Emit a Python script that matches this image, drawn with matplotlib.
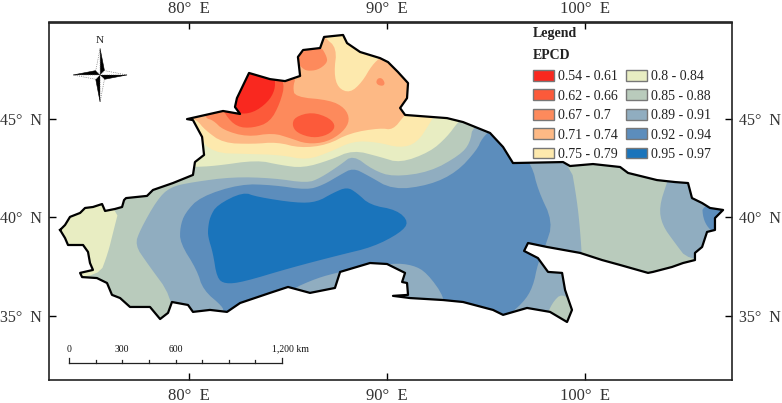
import numpy as np
import matplotlib
matplotlib.use("Agg")
import matplotlib.pyplot as plt
from matplotlib.patches import Patch, Polygon

plt.rcParams["font.family"] = ["Liberation Serif", "DejaVu Serif"]

# study area boundary (lon, lat)
border_lon = [73.49, 73.74, 73.99, 74.50, 74.75, 75.15, 75.61, 75.76, 76.26, 76.62, 76.72, 76.82, 77.88, 78.18, 79.19, 80.20, 80.30, 80.76, 80.66, 80.20, 79.90,
              81.72, 82.58, 82.32, 82.42, 83.03, 84.09, 84.85, 85.61, 85.50, 85.76, 86.62, 86.82, 87.78, 87.98, 88.64, 89.65,
              90.05, 90.55, 91.06, 91.01, 90.66, 90.91, 93.03, 93.84, 95.20, 95.86, 96.36, 98.89, 99.24, 100.40, 101.77, 102.17,
              103.63, 104.54, 105.20, 105.40, 105.91, 106.31, 106.97, 106.56, 106.56, 106.16, 105.91, 105.55, 105.55, 104.95,
              104.39, 103.43, 103.18, 101.77, 100.86, 99.75, 98.08, 97.12, 96.92, 97.62, 98.13, 98.84, 98.99, 99.34, 99.09,
              98.23, 97.07, 95.86, 95.35, 93.84, 92.83, 91.16, 90.30, 91.06, 91.01, 90.76, 90.91, 90.00, 89.14, 87.63, 87.37,
              86.11, 85.00, 84.09, 82.58, 81.92, 81.06, 80.20, 79.95, 79.14, 78.94, 78.54, 78.03, 77.02, 76.52, 76.11, 75.86, 75.35,
              74.60, 74.50, 75.15, 75.00, 74.90, 74.65, 73.89, 73.74]
border_lat = [39.37, 39.62, 40.03, 40.23, 40.48, 40.53, 40.68, 40.33, 40.43, 40.53, 40.88, 40.98, 41.09, 41.39, 41.74, 42.15, 42.80, 43.16, 44.07, 44.92, 44.97,
              45.38, 45.23, 45.58, 46.03, 47.30, 46.99, 46.89, 47.15, 48.11, 48.46, 48.56, 49.12, 49.22, 48.81, 48.36, 48.05,
              47.85, 47.35, 46.79, 46.03, 45.53, 45.18, 45.02, 44.82, 44.27, 43.56, 42.75, 42.80, 42.60, 42.70, 42.55, 42.25,
              41.89, 41.79, 41.74, 40.98, 40.73, 40.48, 40.38, 39.97, 39.37, 39.27, 38.51, 38.21, 37.85, 37.70,
              37.50, 37.25, 37.20, 37.60, 37.85, 38.21, 38.51, 38.71, 38.31, 37.95, 37.25, 37.20, 36.34, 35.33, 34.72,
              35.23, 35.43, 35.08, 35.33, 35.73, 35.83, 35.93, 36.04, 36.09, 36.69, 36.74, 37.20, 37.65, 37.70, 37.25, 36.44,
              36.19, 36.49, 36.19, 35.68, 35.23, 35.33, 35.23, 35.58, 35.73, 35.18, 34.87, 35.48, 35.48, 35.93, 36.09, 36.69, 36.94,
              36.99, 37.20, 37.35, 37.70, 38.26, 38.61, 38.61, 38.96]

# EPCD classes
class_labels = ["0.54 - 0.61", "0.62 - 0.66", "0.67 - 0.7", "0.71 - 0.74", "0.75 - 0.79",
                "0.8 - 0.84", "0.85 - 0.88", "0.89 - 0.91", "0.92 - 0.94", "0.95 - 0.97"]
class_colors = ["#F9281F", "#FC5A3A", "#FD8A5C", "#FDB985", "#FDE9AD",
                "#E8EDC2", "#B9CBBC", "#90ADC0", "#5C8DBC", "#1A74BB"]

# zone outlines, drawn from outer to inner
west_lon = [76.52, 76.16, 75.91, 75.46, 72.98, 72.98]
west_lat = [40.63, 39.22, 38.21, 37.00, 37.00, 40.63]

c89_lon = [77.27, 77.53, 78.38, 79.04, 80.20, 82.22, 84.24, 85.96, 86.62, 87.63, 88.28, 89.29, 90.30, 92.17, 93.69, 94.19, 94.34,
           95.71, 99.24, 99.59, 99.75, 99.85, 100.00, 79.14, 79.14, 77.88]
c89_lat = [38.61, 39.37, 40.88, 41.54, 41.79, 42.05, 41.99, 41.74, 41.99, 42.65, 43.16, 42.40, 42.05, 42.30, 43.16, 43.76, 44.67,
           44.92, 42.90, 40.88, 39.37, 37.85, 34.32, 34.32, 35.99, 37.70]
south_lon = [98.33, 98.84, 99.49, 99.49, 97.98]
south_lat = [35.68, 36.19, 35.58, 34.32, 34.82]
east_lon = [104.14, 103.74, 103.89, 104.54, 105.20, 107.32, 107.32, 104.29]
east_lat = [41.79, 40.53, 39.62, 38.71, 37.85, 37.85, 42.15, 42.15]
tip_lon = [105.91, 105.96, 106.21, 106.66, 107.32, 107.32]
tip_lat = [40.63, 39.97, 39.47, 39.12, 39.37, 40.63]

c92_lon = [79.55, 79.80, 80.56, 82.58, 84.24, 85.96, 86.77, 87.63, 88.28, 88.99, 90.30, 92.17, 93.53, 94.54, 94.80, 95.35, 96.46,
           97.32, 97.62, 98.38, 97.98, 97.62, 97.37, 96.87, 95.81, 92.93, 92.93, 92.02, 91.31, 90.25, 88.13, 87.63, 86.46, 85.10,
           84.85, 82.58, 81.72, 81.72, 80.71, 80.40, 79.55]
c92_lat = [39.52, 40.23, 41.04, 41.69, 41.64, 41.39, 41.64, 42.15, 42.50, 42.15, 41.39, 41.64, 42.30, 43.41, 44.01, 44.52, 43.66,
           42.65, 41.39, 39.77, 38.51, 37.70, 36.49, 35.68, 34.82, 34.82, 35.93, 37.20, 37.60, 37.70, 37.35, 37.25, 36.94, 36.34,
           35.83, 35.33, 35.23, 35.48, 36.34, 37.35, 38.71]
c95_lon = [80.96, 81.06, 81.41, 82.73, 83.43, 85.45, 86.46, 87.27, 87.98, 88.48, 89.14, 90.50, 91.11, 90.66, 89.29, 87.63, 85.10,
           82.73, 81.82, 81.41, 81.21, 80.96]
c95_lat = [39.47, 40.03, 40.63, 41.29, 41.04, 40.73, 40.78, 41.24, 41.54, 41.24, 40.63, 40.38, 39.77, 39.22, 38.51, 38.11, 37.45,
           36.74, 36.64, 36.94, 38.21, 39.02]

c80_lon = [79.04, 80.20, 81.31, 83.43, 84.60, 85.76, 87.12, 88.28, 89.65, 90.66, 92.17, 93.03, 93.58, 94.44, 94.44, 79.04]
c80_lat = [42.55, 42.55, 42.60, 42.90, 42.65, 42.50, 42.90, 43.41, 43.06, 42.75, 43.31, 44.07, 44.82, 45.68, 49.72, 49.72]
c75_lon = [80.05, 80.40, 81.21, 82.93, 84.60, 85.96, 87.12, 88.28, 89.49, 90.66, 91.51, 92.17, 92.47, 92.47, 80.05]
c75_lat = [44.17, 44.17, 43.26, 43.21, 43.16, 42.90, 43.31, 43.86, 43.81, 43.51, 43.76, 44.77, 45.33, 49.72, 49.72]
c71_lon = [80.05, 80.40, 80.81, 81.72, 83.23, 84.44, 85.61, 86.97, 88.13, 89.65, 90.30, 90.86, 91.16, 91.16, 80.05]
c71_lat = [45.02, 44.92, 44.42, 43.76, 43.71, 43.81, 43.51, 43.66, 44.27, 44.52, 44.42, 45.13, 45.43, 49.72, 49.72]
top_lon = [86.82, 87.47, 87.32, 87.52, 88.13, 88.74, 89.24, 89.75, 90.40, 86.62]
top_lat = [49.12, 48.56, 47.30, 46.54, 46.29, 46.84, 47.70, 48.16, 49.72, 49.72]
c67a_lon = [85.35, 86.62, 86.97, 86.97, 86.51, 85.96, 85.71, 85.50]
c67a_lat = [48.21, 48.71, 48.11, 47.80, 47.45, 47.40, 47.55, 47.80]
c67b_lon = [80.81, 81.21, 81.72, 82.93, 84.24, 85.10, 85.96, 86.97, 87.78, 88.13, 87.88, 87.12, 85.35, 85.25, 85.40, 84.85, 82.58, 80.56]
c67b_lat = [45.02, 44.92, 44.42, 44.07, 44.27, 44.01, 43.71, 43.81, 44.32, 44.92, 45.53, 45.93, 46.09, 46.59, 47.10, 47.95, 47.95, 45.93]
dot_lon = [89.44, 89.54, 89.75, 89.90, 89.80, 89.54]
dot_lat = [46.84, 47.04, 47.04, 46.79, 46.64, 46.69]
c62a_lon = [81.82, 82.42, 83.23, 84.09, 84.60, 84.85, 84.34, 82.58, 81.57]
c62a_lat = [45.18, 44.57, 44.52, 44.82, 45.78, 46.79, 47.45, 47.95, 45.93]
c62b_lon = [85.20, 85.35, 86.21, 87.12, 87.42, 87.02, 86.26, 85.45]
c62b_lat = [44.67, 45.08, 45.33, 45.02, 44.57, 44.17, 44.01, 44.27]
c54_lon = [84.34, 84.34, 83.99, 83.23, 82.42, 81.97, 82.58, 84.34]
c54_lat = [47.04, 46.44, 45.83, 45.28, 45.23, 45.68, 47.95, 47.95]

x_ticks = [80, 90, 100]
x_tick_labels = ["80°  E", "90°  E", "100°  E"]
y_ticks = [35, 40, 45]
y_tick_labels = ["35°  N", "40°  N", "45°  N"]

scale_km = [0, 150, 300, 450, 600, 750, 900, 1050, 1200]
scale_labels = {0: "0", 300: "300", 600: "600", 1200: "1,200 km"}


def smooth(lon, lat, n=2):
    # corner cutting so that zone edges look like contours
    pts = np.column_stack([lon, lat])
    for _ in range(n):
        nxt = np.roll(pts, -1, axis=0)
        pts = np.column_stack([0.75 * pts + 0.25 * nxt, 0.25 * pts + 0.75 * nxt]).reshape(-1, 2)
    return pts


fig = plt.figure(figsize=(7.82, 4.03), dpi=100)
ax = fig.add_axes([49 / 782, 1 - 380 / 403, (732 - 49) / 782, (380 - 22.5) / 403])
ax.set_xlim(72.93, 107.42)
ax.set_ylim(31.79, 49.85)

outline = Polygon(np.column_stack([border_lon, border_lat]), closed=True, fc=class_colors[6], ec="none", zorder=1)
ax.add_patch(outline)

zones = [
    (west_lon, west_lat, 5), (c89_lon, c89_lat, 7), (south_lon, south_lat, 6),
    (east_lon, east_lat, 7), (tip_lon, tip_lat, 8), (c92_lon, c92_lat, 8), (c95_lon, c95_lat, 9),
    (c80_lon, c80_lat, 5), (c75_lon, c75_lat, 4), (c71_lon, c71_lat, 3), (top_lon, top_lat, 4),
    (c67a_lon, c67a_lat, 2), (c67b_lon, c67b_lat, 2), (dot_lon, dot_lat, 2),
    (c62a_lon, c62a_lat, 1), (c62b_lon, c62b_lat, 1), (c54_lon, c54_lat, 0),
]
for z, (lon, lat, idx) in enumerate(zones):
    p = Polygon(smooth(lon, lat), closed=True, fc=class_colors[idx], ec="none", zorder=2 + z * 0.01)
    ax.add_patch(p)
    p.set_clip_path(outline)

ax.plot(border_lon + border_lon[:1], border_lat + border_lat[:1], color="black", lw=1.6, zorder=3, solid_joinstyle="round")

# frame and ticks
ax.set_xticks(x_ticks)
ax.set_xticklabels(x_tick_labels, fontsize=12, color="#333333")
ax.set_yticks(y_ticks)
ax.set_yticklabels(y_tick_labels, fontsize=11.5, color="#333333")
ax.tick_params(direction="in", length=5, width=1, right=True, labelright=True)
ax.tick_params(axis="x", pad=6)
ax.tick_params(axis="y", pad=5)
top_ax = ax.secondary_xaxis("top")
top_ax.set_xticks(x_ticks)
top_ax.set_xticklabels(x_tick_labels, fontsize=12, color="#333333")
top_ax.tick_params(direction="in", length=5, width=1, pad=3.9)
top_ax.spines["top"].set_linewidth(1.2)
top_ax.spines["top"].set_color("#222222")
for s in ax.spines.values():
    s.set_linewidth(1.2)
    s.set_color("#222222")

# legend
ax.text(97.37, 49.27, "Legend", fontsize=10, fontweight="bold", va="center", color="#222222")
ax.text(97.37, 48.2, "EPCD", fontsize=10, fontweight="bold", va="center", color="#222222")
handles = [Patch(fc=c, ec="#777777", lw=1) for c in class_colors]
ax.legend(handles, class_labels, ncol=2, frameon=False, fontsize=10,
          loc="upper left", bbox_to_anchor=(97.37, 47.45), bbox_transform=ax.transData,
          handlelength=1.5, handleheight=0.8, handletextpad=0.3, labelspacing=0.455,
          columnspacing=0.62, borderpad=0, borderaxespad=0, labelcolor="#222222")

# scale bar
km_to_deg = 10.76 / 1200
sx = 73.94
ax.plot([sx, sx + 1200 * km_to_deg], [32.65, 32.65], color="#222222", lw=0.9, zorder=4)
for km in scale_km:
    top = 32.90 if km in (0, 1200) else 32.80
    ax.plot([sx + km * km_to_deg] * 2, [32.65, top], color="#222222", lw=0.9, zorder=4)
    if km in scale_labels:
        shift = 0.4 if km == 1200 else 0
        ax.text(sx + km * km_to_deg + shift, 33.35, scale_labels[km], fontsize=7, ha="center", va="center", color="#111111")

# north arrow
cx, cy = 75.51, 47.20
w = 0.22
black = [
    [(cx, cy), (cx, cy + 1.33), (cx + w, cy + w)],
    [(cx, cy), (cx + 1.36, cy), (cx + w, cy - w)],
    [(cx, cy), (cx, cy - 1.36), (cx - w, cy - w)],
    [(cx, cy), (cx - 1.36, cy), (cx - w, cy + w)],
]
white = [
    [(cx, cy), (cx, cy + 1.33), (cx - w, cy + w)],
    [(cx, cy), (cx + 1.36, cy), (cx + w, cy + w)],
    [(cx, cy), (cx, cy - 1.36), (cx + w, cy - w)],
    [(cx, cy), (cx - 1.36, cy), (cx - w, cy - w)],
]
for tri in black:
    ax.add_patch(Polygon(tri, closed=True, fc="black", ec="black", lw=0.4, zorder=4))
for tri in white:
    ax.add_patch(Polygon(tri, closed=True, fc="white", ec="#555555", lw=0.5, ls=":", zorder=4))
ax.text(cx, cy + 1.75, "N", fontsize=8, ha="center", va="center", color="#222222")

fig.savefig("out.png", dpi=100)
